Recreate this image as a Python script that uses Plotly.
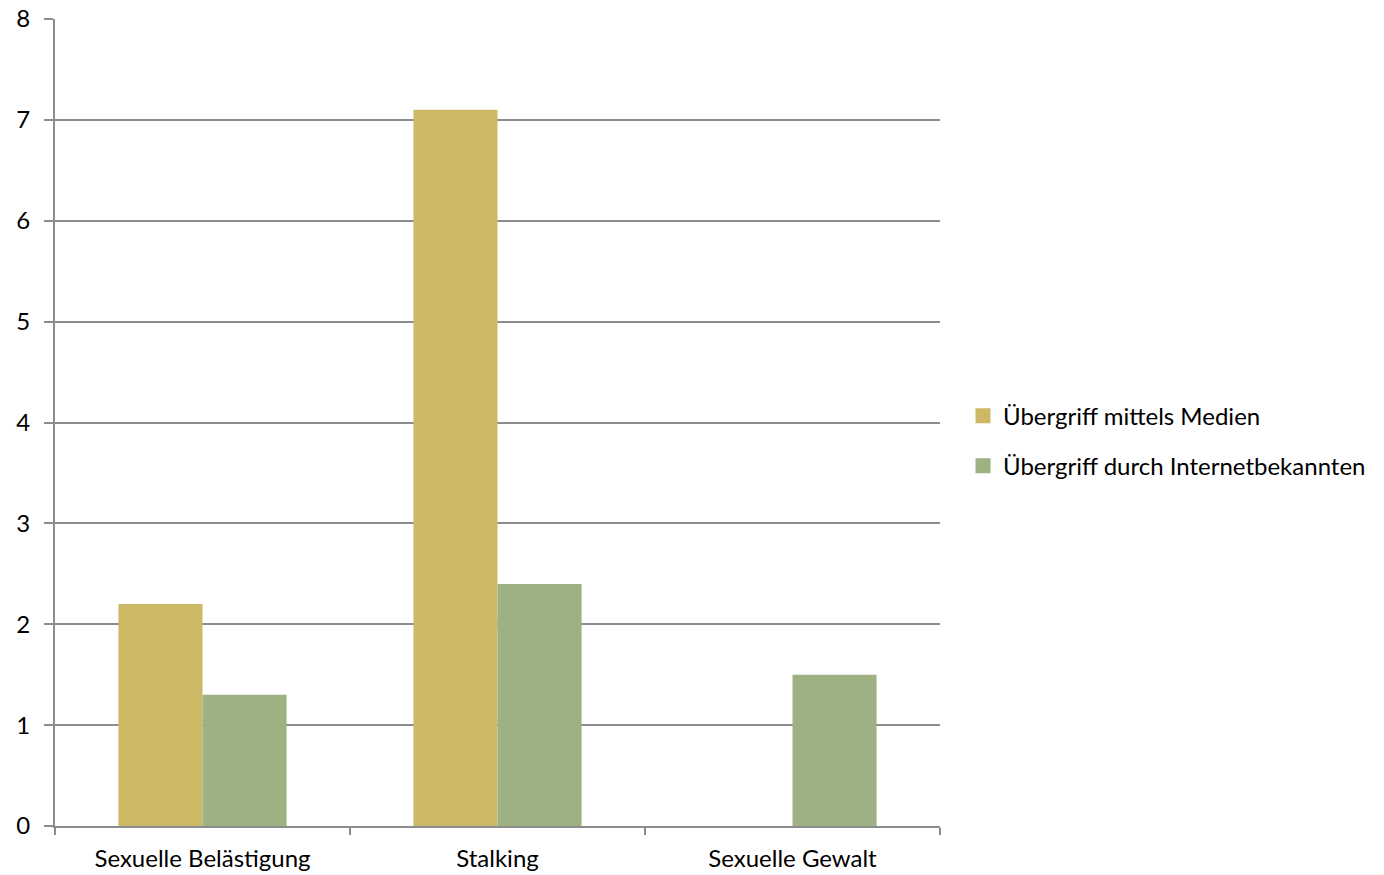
import plotly.graph_objects as go

categories = ["Sexuelle Belästigung", "Stalking", "Sexuelle Gewalt"]
medien = [2.2, 7.1, 0]
internet = [1.3, 2.4, 1.5]
series_names = ["Übergriff mittels Medien", "Übergriff durch Internetbekannten"]
y_ticks = [0, 1, 2, 3, 4, 5, 6, 7, 8]

GOLD = "#CDB866"
GREEN = "#9DB183"
GRID = "#8C8C8C"
FONT = "Lato, 'Open Sans', sans-serif"
FS = 24

fig = go.Figure()
for name, vals, color in [(series_names[0], medien, GOLD),
                          (series_names[1], internet, GREEN)]:
    fig.add_trace(go.Bar(x=categories, y=vals, name=name, showlegend=False,
                         legendgroup=name,
                         marker=dict(color=color, line=dict(width=0))))

# Legend entries with larger square swatches
for name, color in [(series_names[0], GOLD), (series_names[1], GREEN)]:
    fig.add_trace(go.Scatter(x=[None], y=[None], mode="markers", name=name,
                             legendgroup=name,
                             marker=dict(symbol="square", size=15, color=color)))

fig.update_layout(
    width=1384, height=875,
    margin=dict(l=55, r=444, t=19, b=49, autoexpand=False),
    paper_bgcolor="white", plot_bgcolor="white",
    barmode="group", bargap=0.43, bargroupgap=0,
    font=dict(family=FONT, size=FS, color="#000000"),
    legend=dict(x=1.026, y=0.477, xanchor="left", yanchor="middle",
                font=dict(size=FS), itemwidth=30, tracegroupgap=16,
                bgcolor="rgba(0,0,0,0)"),
    xaxis=dict(showline=True, linecolor=GRID, linewidth=2,
               ticks="outside", ticklen=7, tickcolor=GRID, tickwidth=2,
               tickson="boundaries", showgrid=False, automargin=False,
               ticklabelstandoff=10, tickfont=dict(size=FS)),
    yaxis=dict(range=[0, 8], tickvals=y_ticks, showline=True,
               linecolor=GRID, linewidth=2, ticks="outside", ticklen=9,
               tickcolor=GRID, tickwidth=2, showgrid=True, gridcolor=GRID,
               gridwidth=2, zeroline=False, automargin=False,
               ticklabelstandoff=9, tickfont=dict(size=FS)),
)

fig.write_html("out.html")
